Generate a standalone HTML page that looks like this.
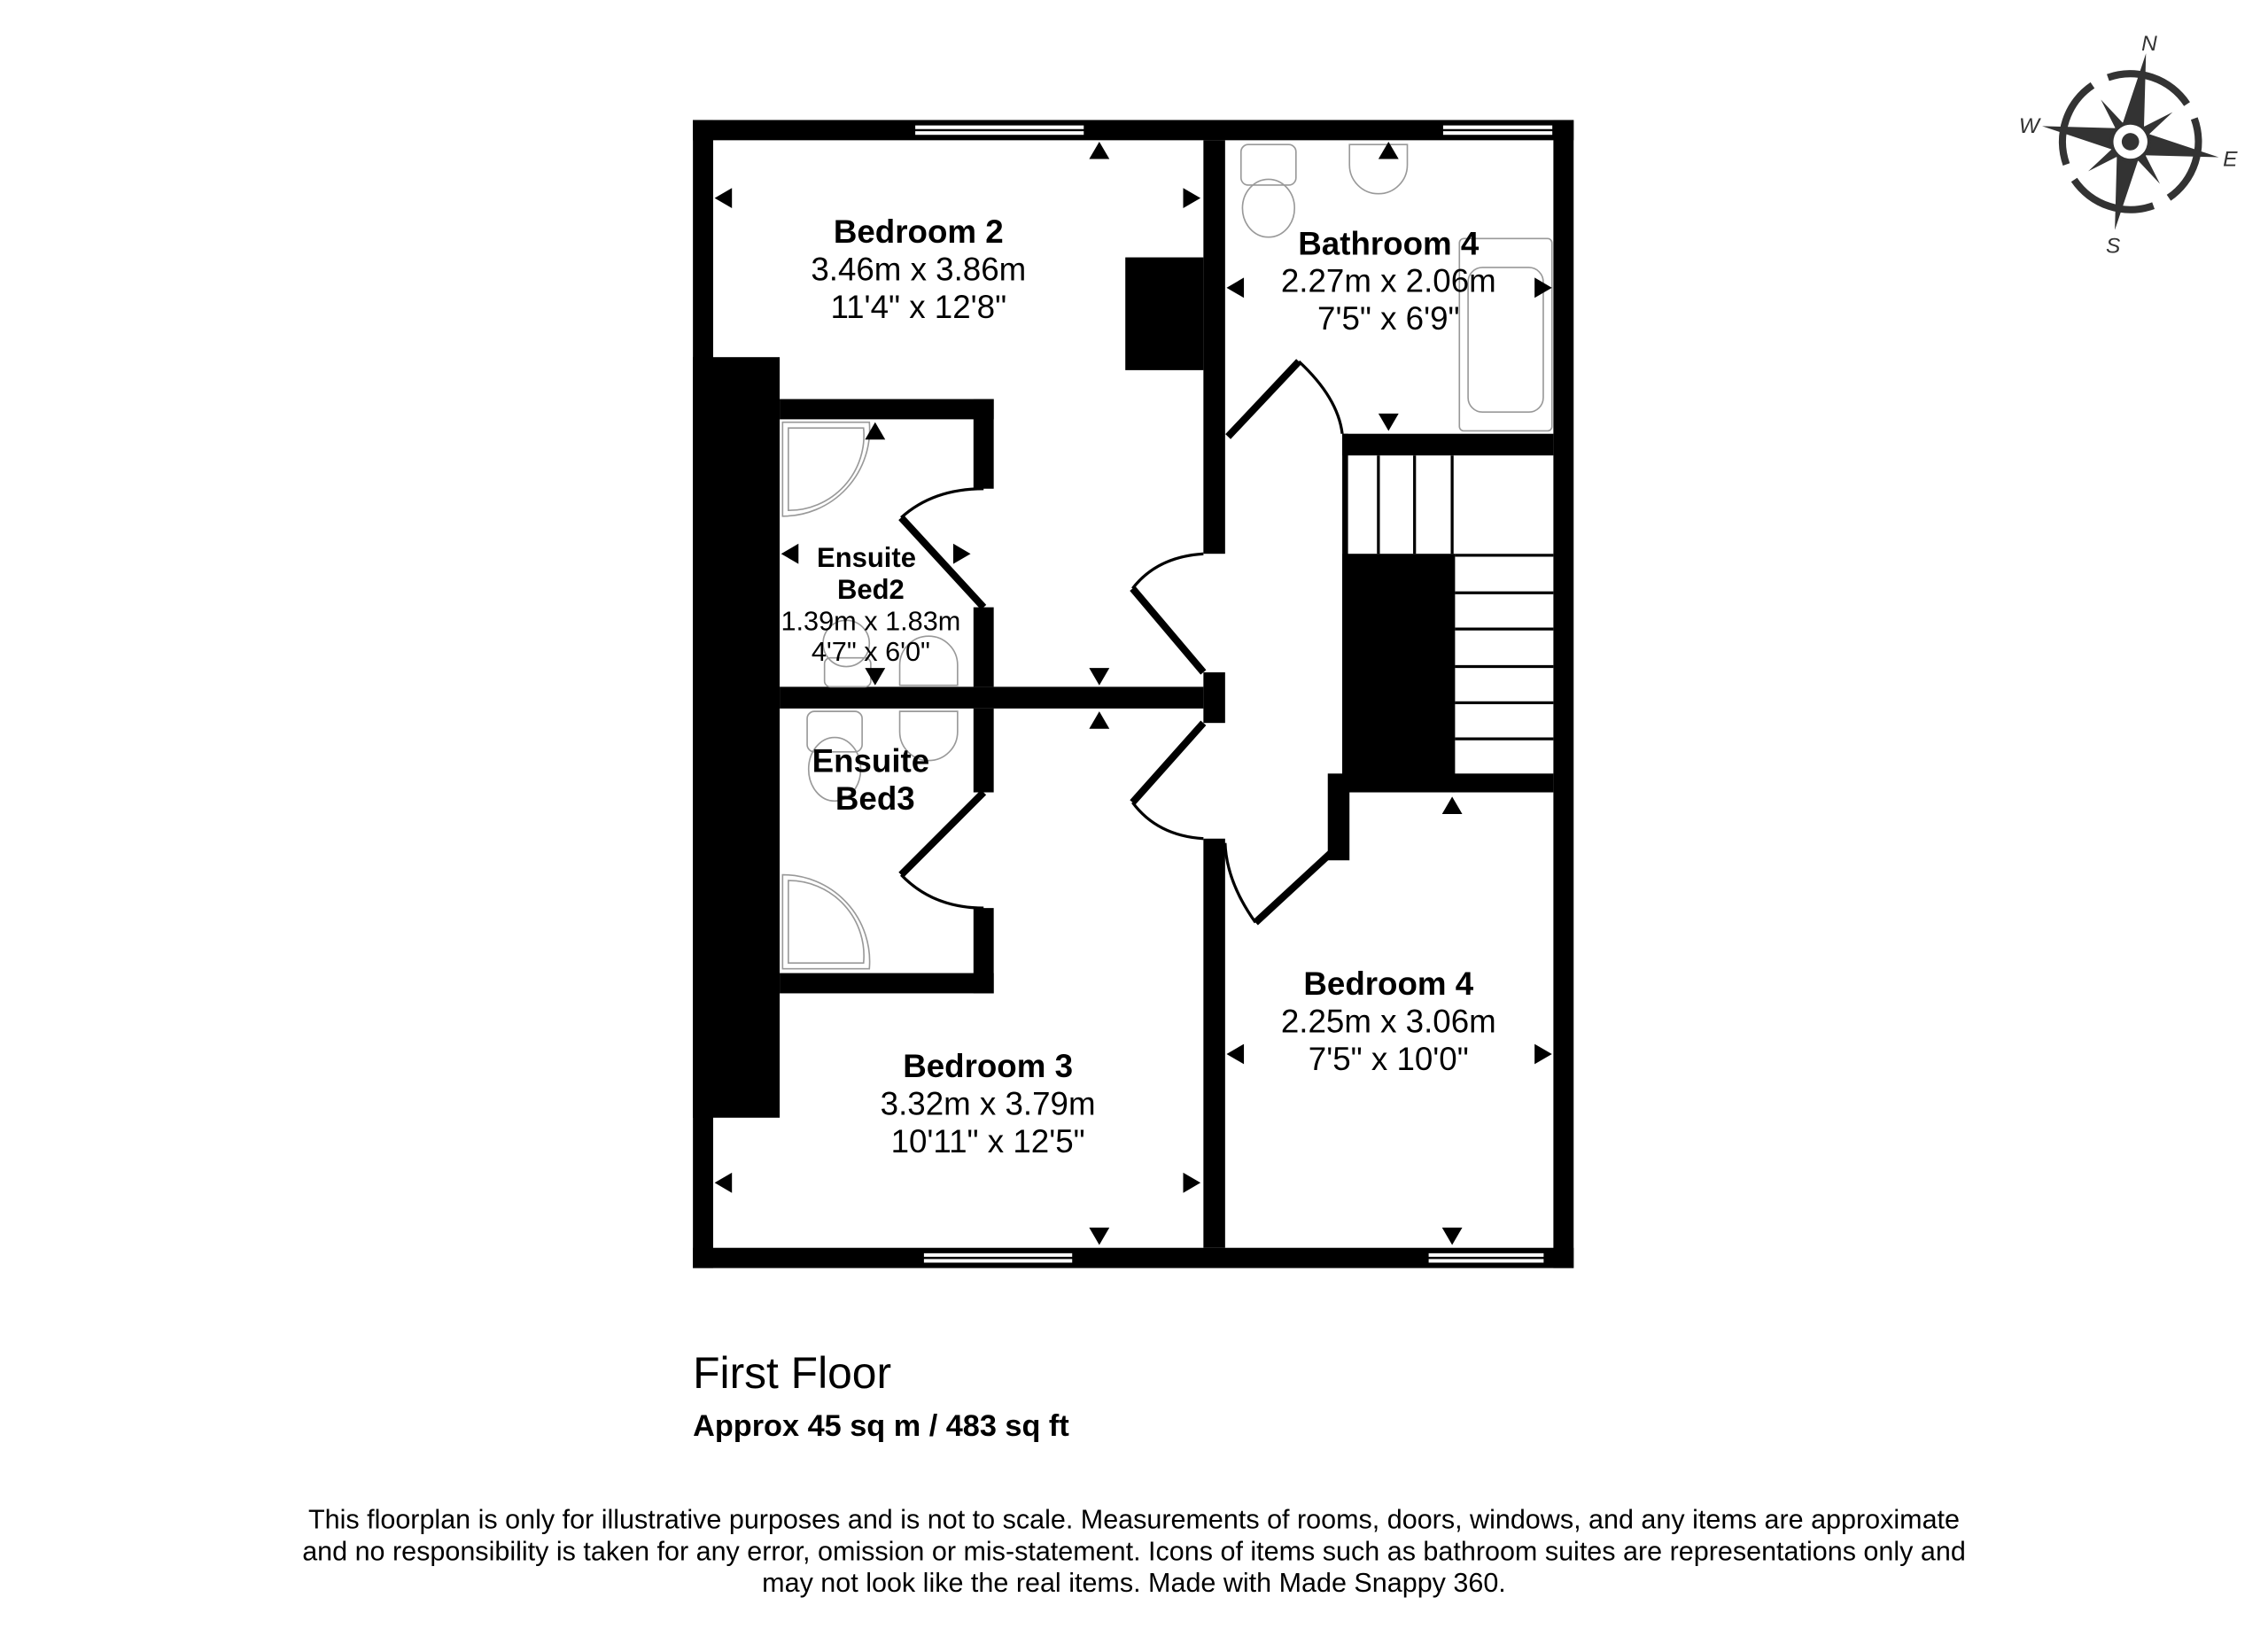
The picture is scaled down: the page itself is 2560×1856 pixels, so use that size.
<!DOCTYPE html>
<html><head><meta charset="utf-8"><style>html,body{margin:0;padding:0;background:#fff}svg{display:block}</style></head><body>
<svg width="2560" height="1856" viewBox="0 0 1568 1137" xmlns="http://www.w3.org/2000/svg" font-family="Liberation Sans, Arial, sans-serif">
<rect width="1568" height="1137" fill="#fff"/>
<g fill="#000">
<rect x="479" y="83" width="609" height="14"/>
<rect x="479" y="863" width="609" height="14"/>
<rect x="479" y="83" width="14" height="794"/>
<rect x="1074" y="83" width="14" height="794"/>
<rect x="479" y="247" width="60" height="526"/>
<rect x="832" y="97" width="15" height="286"/>
<rect x="832" y="465" width="15" height="35"/>
<rect x="832" y="580" width="15" height="283"/>
<rect x="778" y="178" width="54" height="78"/>
<rect x="539" y="276" width="148" height="14"/>
<rect x="673" y="276" width="14" height="62"/>
<rect x="673" y="420" width="14" height="55"/>
<rect x="539" y="475" width="293" height="15"/>
<rect x="673" y="490" width="14" height="58"/>
<rect x="673" y="628" width="14" height="59"/>
<rect x="539" y="673" width="148" height="14"/>
<rect x="928" y="300" width="146" height="15"/>
<rect x="928" y="300" width="4" height="248"/>
<rect x="928" y="383" width="78" height="165"/>
<rect x="1004" y="535" width="70" height="13"/>
<rect x="918" y="535" width="15" height="60"/>
</g>
<g stroke="#000" stroke-width="2" fill="none">
<line x1="953" y1="315" x2="953" y2="383"/><line x1="978" y1="315" x2="978" y2="383"/><line x1="1004" y1="315" x2="1004" y2="383"/>
<line x1="1006" y1="384" x2="1074" y2="384"/><line x1="1006" y1="410" x2="1074" y2="410"/><line x1="1006" y1="435" x2="1074" y2="435"/><line x1="1006" y1="461" x2="1074" y2="461"/><line x1="1006" y1="486" x2="1074" y2="486"/><line x1="1006" y1="511" x2="1074" y2="511"/>
</g>
<g fill="#fff" stroke="#000" stroke-width="1.5">
<rect x="632" y="86" width="118" height="8"/>
<rect x="997" y="86" width="77" height="8"/>
<rect x="638" y="866" width="104" height="8"/>
<rect x="987" y="866" width="81" height="8"/>
</g>
<g stroke="#000" stroke-width="1.5"><line x1="632" y1="90" x2="750" y2="90"/><line x1="997" y1="90" x2="1074" y2="90"/><line x1="638" y1="870" x2="742" y2="870"/><line x1="987" y1="870" x2="1068" y2="870"/></g>
<g stroke="#000" fill="none">
<line x1="849" y1="302" x2="898" y2="250" stroke-width="5"/><path d="M898 250 Q925 275 928 300" stroke-width="2"/>
<line x1="832" y1="465" x2="783" y2="407" stroke-width="5"/><path d="M783 407 Q800 385 832 383" stroke-width="2"/>
<line x1="832" y1="500" x2="783" y2="555" stroke-width="5"/><path d="M783 555 Q800 578 832 580" stroke-width="2"/>
<line x1="680" y1="420" x2="623" y2="358" stroke-width="5"/><path d="M623 358 Q645 338 680 338" stroke-width="2"/>
<line x1="680" y1="548" x2="623" y2="605" stroke-width="5"/><path d="M623 605 Q645 628 680 628" stroke-width="2"/>
<line x1="920" y1="590" x2="868" y2="638" stroke-width="5"/><path d="M868 638 Q848 610 847 583" stroke-width="2"/>
</g>
<g stroke="#999" stroke-width="1" fill="none">
<rect x="858" y="100" width="38" height="28" rx="5"/><ellipse cx="877" cy="144" rx="18" ry="20"/>
<path d="M933 100 h40 v14 a20 20 0 0 1 -40 0 z"/>
<rect x="1009" y="165" width="64" height="133" rx="3"/><rect x="1015" y="185" width="52" height="100" rx="10"/>
<path d="M541 292 h60 a60 60 0 0 1 -60 65 z"/><path d="M545 296 h52 a52 52 0 0 1 -52 57 z"/>
<path d="M541 670 h60 a60 60 0 0 0 -60 -65 z"/><path d="M545 666 h52 a52 52 0 0 0 -52 -57 z"/>
<rect x="558" y="492" width="38" height="28" rx="5"/><ellipse cx="577" cy="532" rx="18" ry="22"/>
<path d="M622 492 h40 v14 a20 20 0 0 1 -40 0 z"/>
<rect x="570" y="455" width="32" height="20" rx="4"/><ellipse cx="585" cy="445" rx="16" ry="16"/>
<path d="M622 474 h40 v-14 a20 20 0 0 0 -40 0 z"/>
</g>
<g fill="#000">
<path d="M753 110 l7 -12 l7 12z"/><path d="M494 137 l12 -7 v14z"/><path d="M830 137 l-12 -7 v14z"/>
<path d="M953 110 l7 -12 l7 12z"/><path d="M848 199 l12 -7 v14z"/><path d="M1073 199 l-12 -7 v14z"/><path d="M953 286 l7 12 l7 -12z"/>
<path d="M598 304 l7 -12 l7 12z"/><path d="M540 383 l12 -7 v14z"/><path d="M671 383 l-12 -7 v14z"/><path d="M598 462 l7 12 l7 -12z"/>
<path d="M753 462 l7 12 l7 -12z"/><path d="M753 504 l7 -12 l7 12z"/>
<path d="M997 563 l7 -12 l7 12z"/><path d="M848 729 l12 -7 v14z"/><path d="M1073 729 l-12 -7 v14z"/><path d="M997 849 l7 12 l7 -12z"/>
<path d="M494 818 l12 -7 v14z"/><path d="M830 818 l-12 -7 v14z"/><path d="M753 849 l7 12 l7 -12z"/>
</g>
<g text-anchor="middle" fill="#000">
<text x="635" y="168" font-size="22.5" font-weight="bold">Bedroom 2</text>
<text x="635" y="194" font-size="22.5">3.46m x 3.86m</text>
<text x="635" y="220" font-size="22.5">11'4" x 12'8"</text>
<text x="960" y="176" font-size="22.5" font-weight="bold">Bathroom 4</text>
<text x="960" y="202" font-size="22.5">2.27m x 2.06m</text>
<text x="960" y="228" font-size="22.5">7'5" x 6'9"</text>
<text x="599" y="392" font-size="19" font-weight="bold">Ensuite</text>
<text x="602" y="414" font-size="19" font-weight="bold">Bed2</text>
<text x="602" y="436" font-size="18.8">1.39m x 1.83m</text>
<text x="602" y="457" font-size="18.8">4'7" x 6'0"</text>
<text x="602" y="534" font-size="22.5" font-weight="bold">Ensuite</text>
<text x="605" y="560" font-size="22.5" font-weight="bold">Bed3</text>
<text x="683" y="745" font-size="22.5" font-weight="bold">Bedroom 3</text>
<text x="683" y="771" font-size="22.5">3.32m x 3.79m</text>
<text x="683" y="797" font-size="22.5">10'11" x 12'5"</text>
<text x="960" y="688" font-size="22.5" font-weight="bold">Bedroom 4</text>
<text x="960" y="714" font-size="22.5">2.25m x 3.06m</text>
<text x="960" y="740" font-size="22.5">7'5" x 10'0"</text>
</g>
<text x="479" y="960" font-size="30.5">First Floor</text>
<text x="479" y="993" font-size="21" font-weight="bold">Approx 45 sq m / 483 sq ft</text>
<g text-anchor="middle" font-size="18.7" fill="#000">
<text x="784" y="1057">This floorplan is only for illustrative purposes and is not to scale. Measurements of rooms, doors, windows, and any items are approximate</text>
<text x="784" y="1079">and no responsibility is taken for any error, omission or mis-statement. Icons of items such as bathroom suites are representations only and</text>
<text x="784" y="1101">may not look like the real items. Made with Made Snappy 360.</text>
</g>
<g transform="translate(1473 98) rotate(10)" fill="#333">
<circle r="47" fill="none" stroke="#333" stroke-width="5" stroke-dasharray="62 12" transform="rotate(-30)"/>
<path d="M0 -62 L8 -8 L0 0 L-8 -8Z M0 62 L8 8 L0 0 L-8 8Z M-62 0 L-8 -8 L0 0 L-8 8Z M62 0 L8 -8 L0 0 L8 8Z"/>
<path d="M-28 -28 L4 -4 L-4 4Z M28 28 L4 -4 L-4 4Z M28 -28 L4 4 L-4 -4Z M-28 28 L4 4 L-4 -4Z" transform="scale(0.9)"/>
<circle r="13" fill="#fff" stroke="#333" stroke-width="2.5"/><circle r="6"/>
</g>
<g font-size="15" font-style="italic" fill="#333" text-anchor="middle">
<text x="1486" y="35">N</text><text x="1403" y="92">W</text><text x="1542" y="115">E</text><text x="1461" y="175">S</text>
</g>
</svg>
</body></html>
